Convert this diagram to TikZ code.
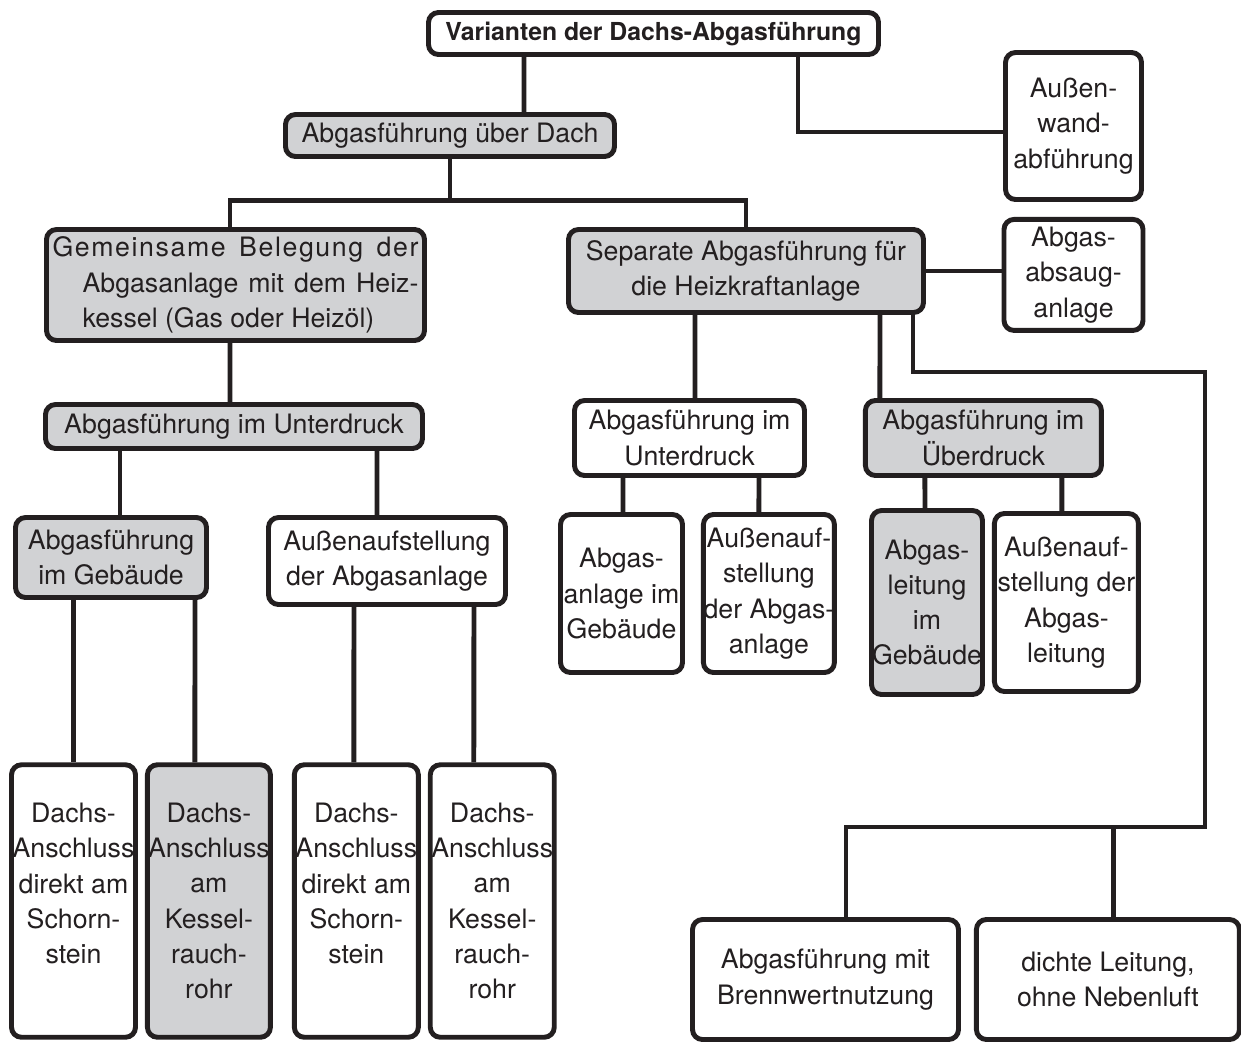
\documentclass[tikz,border=0pt]{standalone}
\usepackage{fontspec}
\setmainfont{TeX Gyre Heros}
\usepackage{tikz}
\usetikzlibrary{positioning}

\definecolor{boxgray}{RGB}{209,210,212}
\definecolor{ink}{RGB}{35,31,32}

\begin{document}
\begin{tikzpicture}[
    line width=2.8pt,
    box/.style={
      draw=ink,
      fill=white,
      rounded corners=0.2cm,
      inner sep=0pt,
      align=center,
      text=ink,
      font=\fontsize{15.2}{20.1}\selectfont,
    },
    graybox/.style={
      box,
      fill=boxgray,
    },
    link/.style={
      draw=ink,
    },
  ]
  \useasboundingbox (0,0) rectangle (24.82,-20.86);

  % --- Title and first level ---
  \node[box, font=\bfseries\fontsize{14.1}{18}\selectfont,
    minimum width=9cm, minimum height=0.84cm] (Top) at (13.07,-0.67)
    {Varianten der Dachs-Abgasführung};
  \node[graybox, minimum width=6.58cm, minimum height=0.84cm] (Dach) at (9.0,-2.71)
    {Abgasführung über Dach};
  \node[box, minimum width=2.72cm, minimum height=2.94cm] (Wand) at (21.47,-2.52)
    {Außen-\\wand-\\abführung};
  \node[box, minimum width=2.78cm, minimum height=2.22cm, below=0.3cm of Wand] (Absaug)
    {Abgas-\\absaug-\\anlage};

  % --- Second level ---
  \node[graybox, align=right, minimum width=7.56cm, minimum height=2.22cm] (Gem) at (4.71,-5.7) {%
    \makebox[7.32cm][s]{\addfontfeature{LetterSpace=6}Gemeinsame Belegung der}\\
    \makebox[6.72cm][s]{Abgasanlage mit dem Heiz-}\\
    \makebox[6.72cm][l]{kessel (Gas oder Heizöl)}%
  };
  \node[graybox, minimum width=7.1cm, minimum height=1.66cm] (Sep) at (14.92,-5.42)
    {Separate Abgasführung für\\die Heizkraftanlage};

  % --- Third level ---
  \node[graybox, minimum width=7.54cm, minimum height=0.88cm] (UnterL) at (4.68,-8.53)
    {Abgasführung im Unterdruck};
  \node[box, minimum width=4.6cm, minimum height=1.5cm] (UnterR) at (13.79,-8.76)
    {Abgasführung im\\Unterdruck};
  \node[graybox, minimum width=4.72cm, minimum height=1.5cm, right=1.12cm of UnterR] (Ueber)
    {Abgasführung im\\Überdruck};

  % --- Fourth level ---
  \node[graybox, minimum width=3.82cm, minimum height=1.6cm] (GebL) at (2.22,-11.15)
    {Abgasführung\\im Gebäude};
  \node[box, minimum width=4.74cm, minimum height=1.74cm] (AufL) at (7.74,-11.22)
    {Außenaufstellung\\der Abgasanlage};
  \node[box, minimum width=2.44cm, minimum height=3.16cm] (Anlage) at (12.43,-11.87)
    {Abgas-\\anlage im\\Gebäude};
  \node[box, minimum width=2.62cm, minimum height=3.16cm, right=0.32cm of Anlage] (AufR1)
    {Außenauf-\\stellung\\der Abgas-\\anlage};
  \node[graybox, minimum width=2.22cm, minimum height=3.68cm] (Leitung) at (18.54,-12.05)
    {Abgas-\\leitung\\im\\Gebäude};
  \node[box, minimum width=2.88cm, minimum height=3.56cm, right=0.14cm of Leitung] (AufR2)
    {Außenauf-\\stellung der\\Abgas-\\leitung};

  % --- Bottom row ---
  \node[box, minimum width=2.48cm, minimum height=5.45cm] (B1) at (1.47,-18.02)
    {Dachs-\\Anschluss\\direkt am\\Schorn-\\stein\\\mbox{}};
  \node[graybox, minimum width=2.46cm, minimum height=5.45cm, right=0.14cm of B1] (B2)
    {Dachs-\\Anschluss\\am\\Kessel-\\rauch-\\rohr};
  \node[box, minimum width=2.48cm, minimum height=5.45cm, right=0.38cm of B2] (B3)
    {Dachs-\\Anschluss\\direkt am\\Schorn-\\stein\\\mbox{}};
  \node[box, minimum width=2.48cm, minimum height=5.45cm, right=0.14cm of B3] (B4)
    {Dachs-\\Anschluss\\am\\Kessel-\\rauch-\\rohr};
  \node[box, minimum width=5.32cm, minimum height=2.4cm] (Brenn) at (16.51,-19.59)
    {Abgasführung mit\\Brennwertnutzung};
  \node[box, minimum width=5.26cm, minimum height=2.4cm, right=0.26cm of Brenn] (Dichte)
    {dichte Leitung,\\ohne Nebenluft};

  % --- Connectors from the top ---
  \draw[link] ([xshift=-2.59cm]Top.south) -- ([xshift=1.48cm]Dach.north);
  \draw[link] ([xshift=2.89cm]Top.south) |- ([yshift=-0.12cm]Wand.west);
  \draw[link] (Dach.south) -- ++(0,-0.83) coordinate (bus);
  \draw[link] ([xshift=-0.11cm]Gem.north) |- (bus) -| (Sep.north);
  \draw[link] (Sep.east) -- (Sep.east -| Absaug.west);

  % --- Left branch ---
  \draw[link] ([xshift=-0.11cm]Gem.south) -- ([xshift=-0.08cm]UnterL.north);
  \draw[link] ([xshift=-2.28cm]UnterL.south) -- ([xshift=0.18cm]GebL.north);
  \draw[link] ([xshift=2.86cm]UnterL.south) -- ([xshift=-0.2cm]AufL.north);
  \draw[link] ([xshift=-0.75cm]GebL.south) -- (B1.north);
  \draw[link] ([xshift=1.68cm]GebL.south) -- ([xshift=-0.28cm]B2.north);
  \draw[link] ([xshift=-0.66cm]AufL.south) -- ([xshift=-0.05cm]B3.north);
  \draw[link] ([xshift=1.74cm]AufL.south) -- ([xshift=-0.37cm]B4.north);

  % --- Right branch ---
  \draw[link] ([xshift=-1.02cm]Sep.south) -- ([xshift=0.11cm]UnterR.north);
  \draw[link] ([xshift=2.68cm]Sep.south) -- ([xshift=-2.07cm]Ueber.north);
  \draw[link] ([xshift=-1.33cm]UnterR.south) -- ([xshift=0.03cm]Anlage.north);
  \draw[link] ([xshift=1.39cm]UnterR.south) -- ([xshift=-0.2cm]AufR1.north);
  \draw[link] ([xshift=-1.17cm]Ueber.south) -- ([xshift=-0.04cm]Leitung.north);
  \draw[link] ([xshift=1.57cm]Ueber.south) -- ([xshift=-0.09cm]AufR2.north);

  % --- Long way down to the condensing variants ---
  \coordinate (kink) at (24.1,-7.44);
  \coordinate (busB) at (24.1,-16.54);
  \draw[link] ([xshift=3.34cm]Sep.south) |- (kink) -- (busB) -| ([xshift=0.41cm]Brenn.north);
  \draw[link] ([xshift=0.12cm]Dichte.north) |- (busB);

\end{tikzpicture}
\end{document}
